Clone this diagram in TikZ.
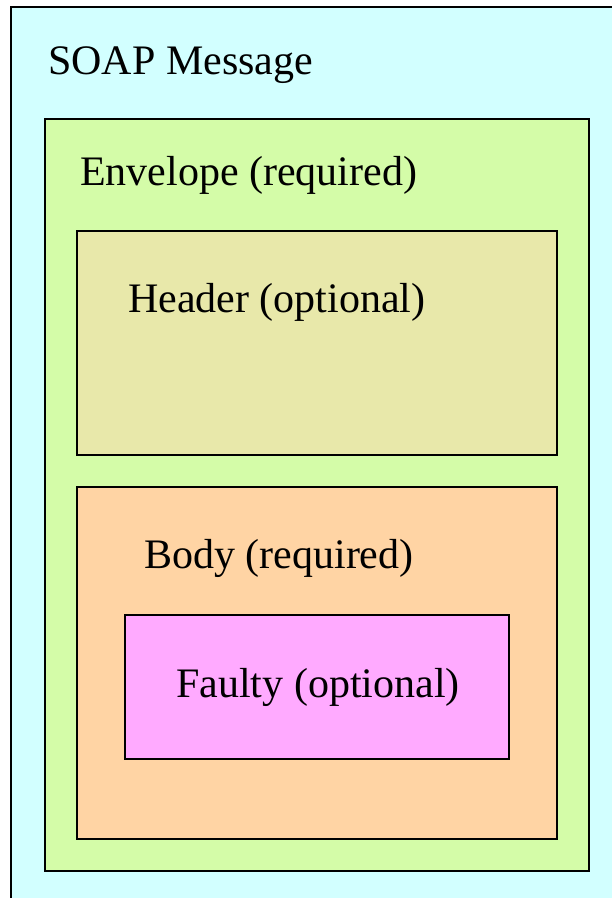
\documentclass[tikz,border=0pt]{standalone}
\usepackage{fontspec}
\setmainfont{Liberation Serif}
\usepackage{tikz}
\usetikzlibrary{positioning}
\definecolor{msgcyan}{HTML}{D2FFFF}
\definecolor{envgreen}{HTML}{D4FCA8}
\definecolor{hdrtan}{HTML}{E8E8AA}
\definecolor{bodypeach}{HTML}{FFD4A4}
\definecolor{faultpink}{HTML}{FFAAFF}
\tikzset{
	x=1pt, y=-1pt,
	partbox/.style={
		draw,
		line width=1.5pt,
		anchor=north west,
		inner sep=0pt},
	partname/.style={
		anchor=base west,
		inner sep=0pt,
		font=\fontsize{42}{50}\selectfont}
}

\begin{document}
\begin{tikzpicture}
				\useasboundingbox (0,0) rectangle (612,898);
				\clip (0,0) rectangle (612,898);
				\node[partbox, fill=msgcyan, minimum width=640pt, minimum height=940pt] (soap) at (10,6) {};
				\node[partbox, fill=envgreen, minimum width=544pt, minimum height=752pt] (envelope) at (44,118) {};
				\node[partbox, fill=hdrtan, minimum width=480pt, minimum height=224pt] (header) at (76,230) {};
				\node[partbox, fill=bodypeach, minimum width=480pt, minimum height=352pt] (body) at (76,486) {};
				\node[partbox, fill=faultpink, minimum width=384pt, minimum height=144pt] (faulty) at (124,614) {};
				\node[partname] (soaplbl) at (48,74) {SOAP Message};
				\node[partname] (envlbl) at (80,185) {Envelope (required)};
				\node[partname] (hdrlbl) at (128,312) {Header (optional)};
				\node[partname] (bodylbl) at (144,568) {Body (required)};
				\node[partname] (faultlbl) at (176,697) {Faulty (optional)};
\end{tikzpicture}
\end{document}
